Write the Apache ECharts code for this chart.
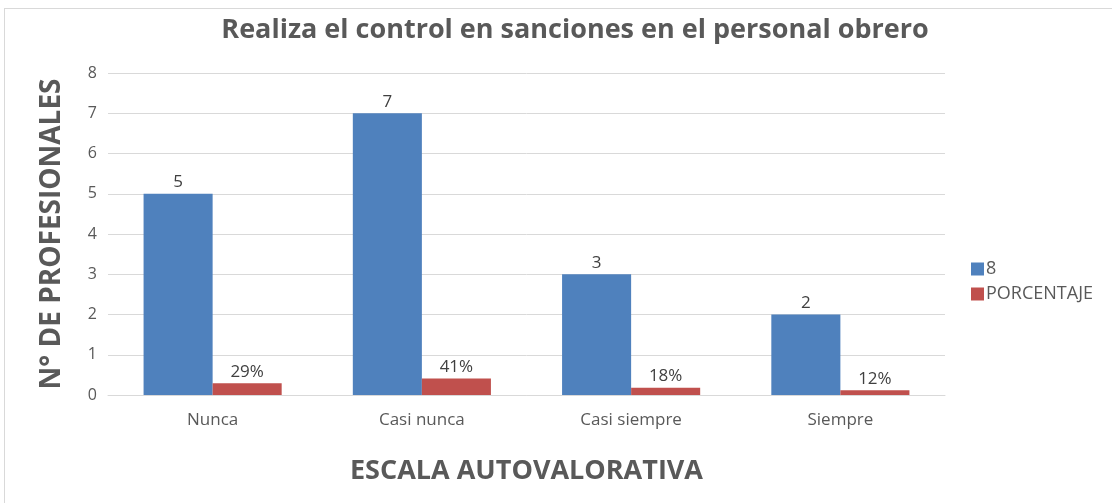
<!DOCTYPE html>
<html>
<head>
<meta charset="utf-8">
<script src="https://cdn.jsdelivr.net/npm/echarts@6/dist/echarts.min.js"></script>
<style>
  html, body { margin: 0; padding: 0; background: #fff; }
  #frame { position: absolute; left: 4px; top: 8px; width: 1120px; height: 510px; border: 1px solid #d9d9d9; }
  #chart { position: absolute; left: 0; top: 0; width: 1112px; height: 503px; }
</style>
</head>
<body>
<div id="frame"></div>
<div id="chart"></div>
<script>
  // datos
  var categorias = ['Nunca', 'Casi nunca', 'Casi siempre', 'Siempre'];
  var serieProfesionales = [5, 7, 3, 2];
  var seriePorcentaje = [0.29, 0.41, 0.18, 0.12];
  var nombreSerie1 = '8';
  var nombreSerie2 = 'PORCENTAJE';

  var fuente = '"Open Sans", sans-serif';
  var myChart = echarts.init(document.getElementById('chart'));
  var option = {
    animation: false,
    title: {
      text: 'Realiza el control en sanciones en el personal obrero',
      left: 570,
      textAlign: 'center',
      top: 12,
      textStyle: { fontFamily: fuente, fontSize: 27, fontWeight: 'bold', color: '#595959' }
    },
    grid: { left: 108, right: 167, top: 73, bottom: 108 },
    legend: {
      orient: 'vertical',
      left: 966,
      top: 255,
      itemWidth: 13,
      itemHeight: 13,
      itemGap: 7,
      icon: 'rect',
      textStyle: { fontFamily: fuente, fontSize: 18, color: '#595959', padding: [0, 0, 0, -3] },
      data: [nombreSerie1, nombreSerie2]
    },
    xAxis: {
      type: 'category',
      data: categorias,
      name: 'ESCALA AUTOVALORATIVA',
      nameLocation: 'middle',
      nameGap: 63,
      nameTextStyle: { fontFamily: fuente, fontSize: 27, fontWeight: 'bold', color: '#595959' },
      axisTick: { show: false },
      axisLine: { lineStyle: { color: '#d9d9d9' } },
      axisLabel: { fontFamily: fuente, fontSize: 17, color: '#595959', margin: 17 }
    },
    yAxis: {
      type: 'value',
      min: 0,
      max: 8,
      interval: 1,
      name: 'N° DE PROFESIONALES',
      nameLocation: 'middle',
      nameGap: 42,
      nameTextStyle: { fontFamily: fuente, fontSize: 28, fontWeight: 'bold', color: '#595959' },
      axisLine: { show: false },
      axisTick: { show: false },
      splitLine: { lineStyle: { color: '#d9d9d9' } },
      axisLabel: { fontFamily: fuente, fontSize: 16, color: '#595959', margin: 11 }
    },
    series: [
      {
        name: nombreSerie1,
        type: 'bar',
        data: serieProfesionales,
        barWidth: '33%',
        barGap: '0%',
        itemStyle: { color: '#4f81bd' },
        label: { show: true, position: 'top', fontFamily: fuente, fontSize: 17, color: '#404040', distance: 3 }
      },
      {
        name: nombreSerie2,
        type: 'bar',
        data: seriePorcentaje,
        barWidth: '33%',
        itemStyle: { color: '#c0504d' },
        label: {
          show: true, position: 'top', fontFamily: fuente, fontSize: 17, color: '#404040', distance: 3,
          formatter: function (p) { return Math.round(p.value * 100) + '%'; }
        }
      }
    ]
  };
  myChart.setOption(option);
</script>
</body>
</html>
